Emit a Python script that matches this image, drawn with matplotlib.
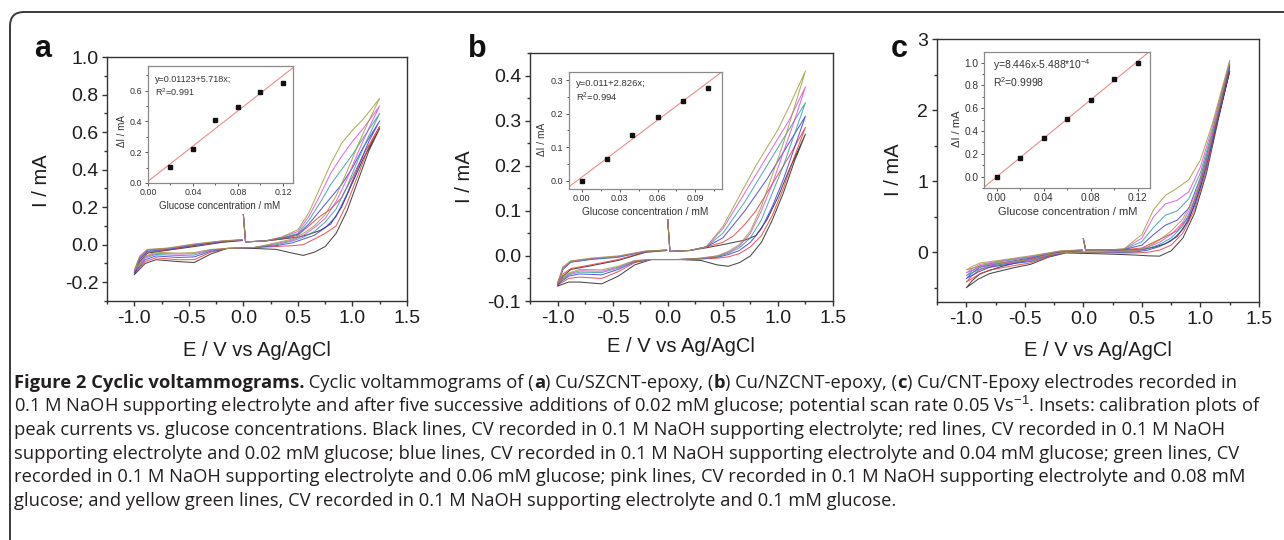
import matplotlib
matplotlib.use("Agg")
import matplotlib.pyplot as plt
from matplotlib.patches import FancyBboxPatch
from matplotlib.transforms import IdentityTransform
from matplotlib.ticker import MultipleLocator

plt.rcParams['font.family'] = ['Liberation Sans', 'DejaVu Sans']
plt.rcParams['mathtext.fontset'] = 'custom'
plt.rcParams['mathtext.rm'] = 'Liberation Sans'
plt.rcParams['mathtext.it'] = 'Liberation Sans:italic'
plt.rcParams['axes.unicode_minus'] = False

W, H = 1284, 540

# potential of one scan: starts at 0 V, up to 1.25 V, down to -1.0 V, back to 0 V
scan_e = [0.0, 0.02, 0.2, 0.35, 0.5, 0.6, 0.7, 0.8, 0.9, 1.0, 1.1, 1.25,
          1.15, 1.05, 0.95, 0.85, 0.75, 0.65, 0.55, 0.45, 0.3, 0.1,
          -0.15, -0.3, -0.45, -0.6, -0.8, -0.9, -1.0,
          -0.95, -0.88, -0.7, -0.45, -0.2, -0.01]

line_colors = ['#1a1a1a', '#e33333', '#3333dd', '#2b9999', '#dd44dd', '#9a9a30']

# panel a  (Cu/SZCNT-epoxy), current in mA
a_black = [0.16, 0.015, 0.02, 0.03, 0.04, 0.055, 0.075, 0.11, 0.2, 0.33, 0.46, 0.62,
           0.50, 0.34, 0.18, 0.06, -0.01, -0.04, -0.057, -0.045, -0.025, -0.02,
           -0.02, -0.05, -0.095, -0.09, -0.08, -0.1, -0.16,
           -0.09, -0.045, -0.03, -0.01, 0.012, 0.022]
a_red = [0.16, 0.015, 0.02, 0.03, 0.05, 0.1, 0.15, 0.19, 0.25, 0.36, 0.48, 0.63,
         0.52, 0.37, 0.22, 0.1, 0.06, 0.03, 0.0, -0.005, -0.01, -0.015,
         -0.02, -0.04, -0.08, -0.08, -0.07, -0.09, -0.155,
         -0.08, -0.04, -0.028, -0.005, 0.015, 0.024]
a_blue = [0.16, 0.015, 0.02, 0.035, 0.055, 0.11, 0.18, 0.25, 0.32, 0.41, 0.52, 0.66,
          0.55, 0.41, 0.27, 0.15, 0.09, 0.05, 0.03, 0.01, -0.005, -0.015,
          -0.02, -0.035, -0.065, -0.068, -0.06, -0.08, -0.15,
          -0.075, -0.035, -0.025, -0.003, 0.016, 0.025]
a_teal = [0.16, 0.015, 0.02, 0.035, 0.06, 0.13, 0.22, 0.32, 0.40, 0.48, 0.57, 0.70,
          0.58, 0.45, 0.31, 0.19, 0.12, 0.07, 0.04, 0.02, 0.0, -0.015,
          -0.02, -0.03, -0.055, -0.058, -0.052, -0.07, -0.145,
          -0.07, -0.03, -0.022, 0.0, 0.018, 0.026]
a_pink = [0.16, 0.015, 0.02, 0.04, 0.07, 0.15, 0.26, 0.38, 0.47, 0.55, 0.62, 0.74,
          0.62, 0.49, 0.35, 0.23, 0.14, 0.09, 0.05, 0.025, 0.005, -0.015,
          -0.02, -0.028, -0.048, -0.05, -0.046, -0.065, -0.14,
          -0.065, -0.027, -0.02, 0.002, 0.019, 0.026]
a_olive = [0.16, 0.015, 0.02, 0.04, 0.08, 0.17, 0.30, 0.43, 0.54, 0.61, 0.67, 0.78,
           0.66, 0.53, 0.39, 0.26, 0.16, 0.1, 0.06, 0.03, 0.01, -0.015,
           -0.02, -0.025, -0.042, -0.045, -0.04, -0.06, -0.135,
           -0.06, -0.025, -0.018, 0.004, 0.02, 0.027]

# panel b  (Cu/NZCNT-epoxy)
b_black = [0.08, 0.01, 0.012, 0.018, 0.025, 0.03, 0.035, 0.045, 0.08, 0.13, 0.19, 0.27,
           0.21, 0.14, 0.08, 0.03, 0.0, -0.015, -0.023, -0.02, -0.01, -0.008,
           -0.008, -0.02, -0.045, -0.062, -0.058, -0.058, -0.067,
           -0.045, -0.03, -0.022, -0.01, 0.008, 0.012]
b_red = [0.08, 0.01, 0.012, 0.02, 0.03, 0.045, 0.07, 0.1, 0.14, 0.18, 0.22, 0.285,
         0.22, 0.15, 0.09, 0.045, 0.02, 0.005, -0.002, -0.005, -0.007, -0.008,
         -0.008, -0.015, -0.035, -0.05, -0.047, -0.05, -0.065,
         -0.04, -0.028, -0.02, -0.008, 0.009, 0.012]
b_blue = [0.08, 0.01, 0.012, 0.02, 0.04, 0.07, 0.1, 0.135, 0.17, 0.21, 0.25, 0.31,
          0.24, 0.17, 0.11, 0.06, 0.03, 0.012, 0.003, -0.003, -0.006, -0.008,
          -0.008, -0.013, -0.03, -0.042, -0.04, -0.045, -0.063,
          -0.03, -0.014, -0.008, -0.003, 0.01, 0.013]
b_teal = [0.08, 0.01, 0.012, 0.02, 0.05, 0.085, 0.12, 0.16, 0.2, 0.24, 0.28, 0.34,
          0.27, 0.2, 0.14, 0.08, 0.04, 0.018, 0.006, -0.002, -0.006, -0.008,
          -0.008, -0.012, -0.027, -0.037, -0.036, -0.042, -0.062,
          -0.028, -0.013, -0.007, -0.002, 0.01, 0.013]
b_pink = [0.08, 0.01, 0.012, 0.02, 0.06, 0.1, 0.14, 0.18, 0.22, 0.26, 0.3, 0.375,
          0.3, 0.23, 0.16, 0.1, 0.05, 0.022, 0.008, 0.0, -0.005, -0.008,
          -0.008, -0.011, -0.025, -0.034, -0.033, -0.04, -0.061,
          -0.026, -0.012, -0.006, -0.001, 0.01, 0.013]
b_olive = [0.08, 0.01, 0.012, 0.02, 0.065, 0.11, 0.155, 0.2, 0.24, 0.28, 0.33, 0.41,
           0.33, 0.25, 0.18, 0.11, 0.055, 0.025, 0.01, 0.0, -0.005, -0.008,
           -0.008, -0.01, -0.023, -0.031, -0.03, -0.038, -0.06,
           -0.024, -0.011, -0.005, 0.0, 0.011, 0.013]

# panel c  (Cu/CNT-Epoxy)
c_black = [0.19, 0.03, 0.03, 0.03, 0.04, 0.07, 0.12, 0.22, 0.45, 0.92, 1.55, 2.55,
           1.85, 1.1, 0.55, 0.2, 0.02, -0.055, -0.05, -0.04, -0.03, -0.02,
           -0.01, -0.07, -0.17, -0.22, -0.3, -0.38, -0.5,
           -0.4, -0.3, -0.2, -0.1, 0.0, 0.02]
c_red = [0.19, 0.03, 0.03, 0.035, 0.06, 0.14, 0.22, 0.3, 0.5, 0.98, 1.6, 2.6,
         1.9, 1.15, 0.6, 0.27, 0.1, 0.03, 0.0, -0.01, -0.01, -0.005,
         0.0, -0.06, -0.15, -0.19, -0.25, -0.32, -0.42,
         -0.33, -0.24, -0.17, -0.09, 0.005, 0.025]
c_blue = [0.19, 0.03, 0.03, 0.04, 0.1, 0.25, 0.38, 0.45, 0.62, 1.05, 1.65, 2.63,
          1.93, 1.2, 0.65, 0.32, 0.16, 0.08, 0.03, 0.005, 0.0, 0.0,
          0.0, -0.05, -0.13, -0.16, -0.21, -0.28, -0.37,
          -0.29, -0.21, -0.15, -0.08, 0.01, 0.03]
c_teal = [0.19, 0.03, 0.03, 0.04, 0.15, 0.35, 0.52, 0.58, 0.75, 1.12, 1.7, 2.65,
          1.95, 1.24, 0.7, 0.37, 0.2, 0.11, 0.05, 0.015, 0.0, 0.0,
          0.0, -0.045, -0.12, -0.15, -0.19, -0.25, -0.33,
          -0.26, -0.19, -0.13, -0.07, 0.012, 0.03]
c_pink = [0.19, 0.03, 0.03, 0.045, 0.2, 0.5, 0.68, 0.73, 0.85, 1.2, 1.75, 2.68,
          1.98, 1.28, 0.74, 0.42, 0.25, 0.14, 0.07, 0.02, 0.005, 0.0,
          0.0, -0.04, -0.11, -0.14, -0.17, -0.22, -0.29,
          -0.23, -0.17, -0.12, -0.06, 0.015, 0.032]
c_olive = [0.19, 0.03, 0.03, 0.05, 0.25, 0.6, 0.8, 0.9, 1.02, 1.3, 1.8, 2.7,
           2.0, 1.32, 0.78, 0.47, 0.3, 0.17, 0.08, 0.03, 0.01, 0.0,
           0.0, -0.035, -0.1, -0.13, -0.16, -0.2, -0.25,
           -0.2, -0.15, -0.11, -0.05, 0.018, 0.034]

# calibration insets
a_conc = [0.02, 0.04, 0.06, 0.08, 0.10, 0.12]
a_delta = [0.102, 0.221, 0.409, 0.496, 0.589, 0.651]
a_fit = (0.01123, 5.718)
b_conc = [0.0, 0.02, 0.04, 0.06, 0.08, 0.10]
b_delta = [0.0, 0.064, 0.137, 0.191, 0.239, 0.276]
b_fit = (0.011, 2.826)
c_conc = [0.0, 0.02, 0.04, 0.06, 0.08, 0.10, 0.12]
c_delta = [0.0, 0.165, 0.335, 0.503, 0.674, 0.859, 1.0]
c_fit = (-5.488e-4, 8.446)

caption_lines = [
    [("Figure 2 Cyclic voltammograms.", True), (" Cyclic voltammograms of (", False), ("a", True),
     (") Cu/SZCNT-epoxy, (", False), ("b", True), (") Cu/NZCNT-epoxy, (", False), ("c", True),
     (") Cu/CNT-Epoxy electrodes recorded in", False)],
    [("0.1 M NaOH supporting electrolyte and after five successive additions of 0.02 mM glucose; "
      "potential scan rate 0.05 Vs$^{-1}$. Insets: calibration plots of", False)],
    [("peak currents vs. glucose concentrations. Black lines, CV recorded in 0.1 M NaOH supporting "
      "electrolyte; red lines, CV recorded in 0.1 M NaOH", False)],
    [("supporting electrolyte and 0.02 mM glucose; blue lines, CV recorded in 0.1 M NaOH supporting "
      "electrolyte and 0.04 mM glucose; green lines, CV", False)],
    [("recorded in 0.1 M NaOH supporting electrolyte and 0.06 mM glucose; pink lines, CV recorded in "
      "0.1 M NaOH supporting electrolyte and 0.08 mM", False)],
    [("glucose; and yellow green lines, CV recorded in 0.1 M NaOH supporting electrolyte and 0.1 mM glucose.", False)],
]


def px_rect(l, t, r, b):
    return [l / W, 1 - b / H, (r - l) / W, (b - t) / H]


def fx(x):
    return x / W


def fy(y):
    return 1 - y / H


fig = plt.figure(figsize=(W / 100, H / 100), dpi=100)

# rounded frame around the whole figure (open to the right and bottom)
frame = FancyBboxPatch((10, -30), 1320, H - 12 + 30, boxstyle="round,pad=0,rounding_size=14",
                       transform=IdentityTransform(), fill=False, edgecolor='#3a3a3a', linewidth=1.4)
fig.patches.append(frame)


def main_panel(rect, curves, xlim, ylim, ymaj, ymin, letter, letter_x, ylab_pos, xlab_pos):
    ax = fig.add_axes(px_rect(*rect))
    for cur, col in zip(curves, line_colors):
        ax.plot(scan_e, cur, color=col, lw=0.75, alpha=0.8)
    ax.set_xlim(*xlim)
    ax.set_ylim(*ylim)
    ax.xaxis.set_major_locator(MultipleLocator(0.5))
    ax.xaxis.set_minor_locator(MultipleLocator(0.25))
    ax.yaxis.set_major_locator(MultipleLocator(ymaj))
    ax.yaxis.set_minor_locator(MultipleLocator(ymin))
    ax.tick_params(which='both', direction='out', color='#333333', width=1.0,
                   top=False, right=False)
    ax.tick_params(which='major', length=3.8, pad=2.5, labelsize=14, labelcolor='#1e1e1e')
    ax.tick_params(which='minor', length=2.2)
    for s in ax.spines.values():
        s.set_color('#333333')
        s.set_linewidth(1.0)
    ax.set_xlabel('E / V vs Ag/AgCl', fontsize=14.5, color='#1e1e1e')
    ax.set_ylabel('I / mA', fontsize=14.5, color='#1e1e1e')
    ax.xaxis.label.set_va('center')
    ax.yaxis.label.set_va('center')
    ax.xaxis.set_label_coords(fx(xlab_pos[0]), fy(xlab_pos[1]), transform=fig.transFigure)
    ax.yaxis.set_label_coords(fx(ylab_pos[0]), fy(ylab_pos[1]), transform=fig.transFigure)
    fig.text(fx(letter_x), fy(57), letter, fontsize=22, fontweight='bold', ha='center',
             va='baseline', color='#111111')
    return ax


def inset(rect, conc, delta, fit, xlim, ylim, xmaj, ymaj, fmt, tsize, lsize,
          eq, eqsize, eq_pos, ylab_pos, xlab_pos):
    ax = fig.add_axes(px_rect(*rect))
    ax.axline((0, fit[0]), slope=fit[1], color='#ee8a8a', lw=0.8)
    ax.plot(conc, delta, 's', color='#111111', ms=2.6)
    ax.set_xlim(*xlim)
    ax.set_ylim(*ylim)
    ax.xaxis.set_major_locator(MultipleLocator(xmaj))
    ax.xaxis.set_minor_locator(MultipleLocator(xmaj / 2))
    ax.yaxis.set_major_locator(MultipleLocator(ymaj))
    ax.yaxis.set_minor_locator(MultipleLocator(ymaj / 2))
    ax.xaxis.set_major_formatter(fmt)
    ax.yaxis.set_major_formatter('{x:.1f}')
    ax.tick_params(which='both', direction='out', color='#555555', width=0.7,
                   top=False, right=False)
    ax.tick_params(which='major', length=2.4, pad=1.5, labelsize=tsize, labelcolor='#333333')
    ax.tick_params(which='minor', length=1.4)
    for s in ax.spines.values():
        s.set_color('#8a8a8a')
        s.set_linewidth(0.9)
    ax.set_xlabel('Glucose concentration / mM', fontsize=lsize, color='#333333')
    ax.set_ylabel('\u0394I / mA', fontsize=lsize, color='#333333')
    ax.xaxis.label.set_va('center')
    ax.yaxis.label.set_va('center')
    ax.xaxis.set_label_coords(fx(xlab_pos[0]), fy(xlab_pos[1]), transform=fig.transFigure)
    ax.yaxis.set_label_coords(fx(ylab_pos[0]), fy(ylab_pos[1]), transform=fig.transFigure)
    fig.text(fx(eq_pos[0]), fy(eq_pos[1]), eq[0], fontsize=eqsize, color='#333333', va='center')
    fig.text(fx(eq_pos[0]), fy(eq_pos[2]), eq[1], fontsize=eqsize, color='#333333', va='center')
    return ax


main_panel((107, 57, 407, 301), [a_black, a_red, a_blue, a_teal, a_pink, a_olive],
           (-1.25, 1.5), (-0.3, 1.0), 0.2, 0.1, 'a', 43, (42, 181), (257, 350))
main_panel((530, 53, 833, 301), [b_black, b_red, b_blue, b_teal, b_pink, b_olive],
           (-1.25, 1.5), (-0.1, 0.45), 0.1, 0.05, 'b', 477, (465, 177), (681, 346))
main_panel((937, 39, 1259, 302), [c_black, c_red, c_blue, c_teal, c_pink, c_olive],
           (-1.25, 1.5), (-0.7, 3.0), 1, 0.5, 'c', 899, (893, 170), (1098, 350))

inset((148, 66, 293, 183), a_conc, a_delta, a_fit, (0, 0.129), (0, 0.76), 0.04, 0.2, '{x:.2f}',
      6.4, 7.0, ('y=0.01123+5.718x;', 'R$^2$=0.991'), 6.5, (155, 79, 92), (122, 131), (220, 206))
inset((569, 72, 722, 189), b_conc, b_delta, b_fit, (-0.01, 0.111), (-0.024, 0.324), 0.03, 0.1,
      '{x:.2f}', 6.5, 7.3, ('y=0.011+2.826x;', 'R$^2$=0.994'), 6.8, (576, 84, 97), (542, 139), (645, 212))
inset((984, 52, 1150, 188), c_conc, c_delta, c_fit, (-0.011, 0.1305), (-0.1, 1.094), 0.04, 0.2,
      '{x:.2f}', 7.3, 8.0, ('y=8.446x-5.488*10$^{-4}$', 'R$^2$=0.9998'), 7.5, (993, 65, 82), (957, 129), (1068, 212))

# caption text, bold and regular runs laid next to each other
renderer = fig.canvas.get_renderer()
cap_font = ['Open Sans', 'DejaVu Sans']
base = 388
for i, parts in enumerate(caption_lines):
    x = 14
    for txt, bold in parts:
        t = fig.text(fx(x), fy(base + i * 23.6), txt, fontsize=13.2, family=cap_font,
                     fontweight='bold' if bold else 'normal', color='#231f20',
                     ha='left', va='baseline')
        x += t.get_window_extent(renderer=renderer).width

fig.savefig('out.png', dpi=100)
